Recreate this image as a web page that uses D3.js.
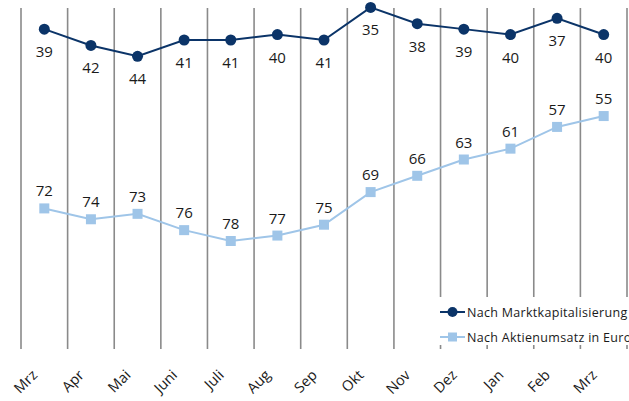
<!DOCTYPE html>
<html><head><meta charset="utf-8">
<script src="https://cdn.jsdelivr.net/npm/d3@7"></script>
<style>body{margin:0;background:#fff}svg{display:block}</style>
</head><body><svg id="c" width="629" height="401"></svg>
<script>
const categories = ["Mrz","Apr","Mai","Juni","Juli","Aug","Sep","Okt","Nov","Dez","Jan","Feb","Mrz"];
const marktkap = [39,42,44,41,41,40,41,35,38,39,40,37,40];
const aktienumsatz = [72,74,73,76,78,77,75,69,66,63,61,57,55];
const seriesNames = ["Nach Marktkapitalisierung","Nach Aktienumsatz in Euro"];

const svg = d3.select("#c");
const font = "'Open Sans', sans-serif";
const x = d3.scaleBand().domain(d3.range(categories.length)).range([21, 627]).padding(0);
const y = d3.scaleLinear().domain([35, 78]).range([7.4, 241]);
const cx = i => x(i) + x.bandwidth()/2;

const bounds = d3.range(categories.length + 1).map(i => i < categories.length ? x(i) : x(i-1) + x.bandwidth());
svg.append("g").selectAll("line").data(bounds).join("line")
  .attr("x1", d => d).attr("x2", d => d).attr("y1", 8).attr("y2", 349)
  .attr("stroke", "#8a8a8a").attr("stroke-width", 1.6);

const xAxis = d3.axisBottom(x).tickSize(0).tickFormat(i => categories[i]);
const ax = svg.append("g").attr("transform", "translate(0,356)").call(xAxis);
ax.select(".domain").remove();
ax.selectAll("text").attr("font-family", font).attr("font-size", 14.5).attr("fill", "#1a1a1a")
  .attr("text-anchor", "end").attr("dy", 0).attr("y", 0)
  .attr("transform", "translate(-6,20) rotate(-45)");

const dark = "#0b3468", light = "#9fc5e8";
const line = d3.line().x((d,i) => cx(i)).y(d => y(d));

svg.append("path").datum(aktienumsatz).attr("d", line).attr("fill","none").attr("stroke", light).attr("stroke-width", 2);
svg.append("g").selectAll("rect").data(aktienumsatz).join("rect")
  .attr("x", (d,i) => cx(i)-5).attr("y", d => y(d)-5).attr("width", 10).attr("height", 10).attr("fill", light);
svg.append("g").selectAll("text").data(aktienumsatz).join("text")
  .attr("x", (d,i) => cx(i)).attr("y", d => y(d)-12).attr("text-anchor","middle")
  .attr("font-family", font).attr("font-size", 15).attr("fill", "#1a1a1a").text(d => d);

svg.append("path").datum(marktkap).attr("d", line).attr("fill","none").attr("stroke", dark).attr("stroke-width", 2);
svg.append("g").selectAll("circle").data(marktkap).join("circle")
  .attr("cx", (d,i) => cx(i)).attr("cy", d => y(d)).attr("r", 5.5).attr("fill", dark);
svg.append("g").selectAll("text").data(marktkap).join("text")
  .attr("x", (d,i) => cx(i)).attr("y", d => y(d)+28).attr("text-anchor","middle")
  .attr("font-family", font).attr("font-size", 15).attr("fill", "#1a1a1a").text(d => d);

const lg = svg.append("g");
lg.append("rect").attr("x", 436).attr("y", 297).attr("width", 200).attr("height", 48).attr("fill", "#fff");
seriesNames.forEach((name, k) => {
  const yy = 312 + k*25;
  const col = k === 0 ? dark : light;
  lg.append("line").attr("x1", 440).attr("x2", 465).attr("y1", yy).attr("y2", yy).attr("stroke", col).attr("stroke-width", 2);
  if (k === 0) lg.append("circle").attr("cx", 452.5).attr("cy", yy).attr("r", 5).attr("fill", col);
  else lg.append("rect").attr("x", 448).attr("y", yy-4.5).attr("width", 9).attr("height", 9).attr("fill", col);
  lg.append("text").attr("x", 467).attr("y", yy+4.5).attr("font-family", font).attr("font-size", 12.5)
    .attr("letter-spacing", 0.3).attr("fill", "#1a1a1a").text(name);
});
</script></body></html>
